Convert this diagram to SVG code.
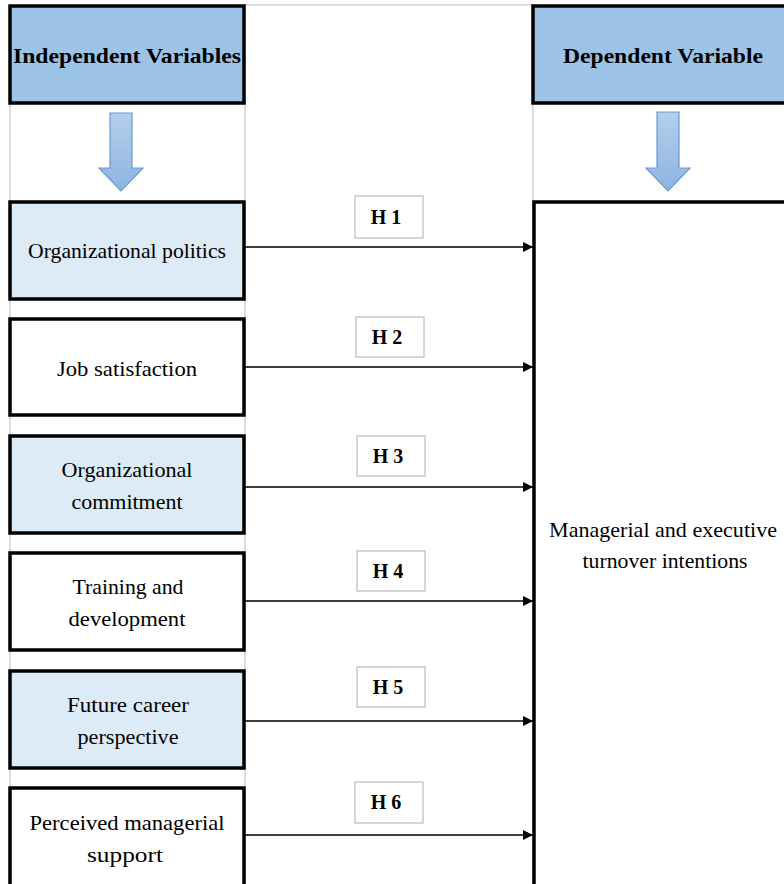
<svg xmlns="http://www.w3.org/2000/svg" width="784" height="884" viewBox="0 0 784 884">
<defs>
<linearGradient id="ag" x1="0" y1="0" x2="0" y2="1">
<stop offset="0" stop-color="#B4CFEC"/>
<stop offset="1" stop-color="#8DB4E2"/>
</linearGradient>
<marker id="ah" viewBox="0 0 10 10" refX="10" refY="5" markerWidth="10" markerHeight="10" markerUnits="userSpaceOnUse" orient="auto">
<path d="M0,0 L10,5 L0,10 z" fill="#000"/>
</marker>
<style>
.grid{stroke:#D0D0D0;stroke-width:1.5;fill:none}
.hdr{fill:#9DC3E6;stroke:#000;stroke-width:3.5}
.box{stroke:#000;stroke-width:3.5}
.blue{fill:#DDEBF7}
.white{fill:#FFFFFF}
.t{font-family:"Liberation Serif",serif;font-size:21.5px;fill:#000;text-anchor:middle}
.b{font-weight:bold;font-size:22px}
.hb{fill:#fff;stroke:#C8C8C8;stroke-width:1.5}
.ht{font-family:"Liberation Serif",serif;font-size:20px;font-weight:bold;fill:#000;text-anchor:middle}
.con{stroke:#000;stroke-width:1.5;fill:none;marker-end:url(#ah)}
.bigarrow{fill:url(#ag);stroke:#6A9BD1;stroke-width:1.2}
</style>
</defs>
<rect width="784" height="884" fill="#fff"/>
<g id="gridlines">
<line class="grid" x1="10" y1="5" x2="10" y2="884"/>
<line class="grid" x1="245" y1="5" x2="245" y2="884"/>
<line class="grid" x1="533" y1="5" x2="533" y2="884"/>
<line class="grid" x1="245" y1="5" x2="533" y2="5"/>
</g>
<g id="hdr-independent">
<rect class="hdr" x="10" y="6" width="234" height="97"/>
<text class="t b" x="127" y="63" textLength="228" lengthAdjust="spacingAndGlyphs">Independent Variables</text>
</g>
<g id="hdr-dependent">
<rect class="hdr" x="533" y="6" width="256" height="97"/>
<text class="t b" x="663" y="63" textLength="200" lengthAdjust="spacingAndGlyphs">Dependent Variable</text>
</g>
<g id="arrow-left">
<path class="bigarrow" d="M110,113 L132,113 L132,168 L143,168 L121,191 L99,168 L110,168 z"/>
</g>
<g id="arrow-right">
<path class="bigarrow" d="M657,112 L679,112 L679,168 L690,168 L668,191 L646,168 L657,168 z"/>
</g>
<g id="n1">
<rect class="box blue" x="10" y="202" width="234" height="97"/>
<text class="t" x="127" y="258" textLength="198" lengthAdjust="spacingAndGlyphs">Organizational politics</text>
</g>
<g id="n2">
<rect class="box white" x="10" y="319" width="234" height="96"/>
<text class="t" x="127" y="376" textLength="140" lengthAdjust="spacingAndGlyphs">Job satisfaction</text>
</g>
<g id="n3">
<rect class="box blue" x="10" y="436" width="234" height="97"/>
<text class="t" x="127" y="477" textLength="131" lengthAdjust="spacingAndGlyphs">Organizational</text>
<text class="t" x="127" y="509" textLength="111" lengthAdjust="spacingAndGlyphs">commitment</text>
</g>
<g id="n4">
<rect class="box white" x="10" y="553" width="234" height="97"/>
<text class="t" x="128" y="594" textLength="111" lengthAdjust="spacingAndGlyphs">Training and</text>
<text class="t" x="127" y="626" textLength="117" lengthAdjust="spacingAndGlyphs">development</text>
</g>
<g id="n5">
<rect class="box blue" x="10" y="671" width="234" height="97"/>
<text class="t" x="128" y="712" textLength="122" lengthAdjust="spacingAndGlyphs">Future career</text>
<text class="t" x="128" y="744" textLength="101" lengthAdjust="spacingAndGlyphs">perspective</text>
</g>
<g id="n6">
<rect class="box white" x="10" y="788" width="234" height="110"/>
<text class="t" x="127" y="830" textLength="195" lengthAdjust="spacingAndGlyphs">Perceived managerial</text>
<text class="t" x="125" y="862" textLength="76" lengthAdjust="spacingAndGlyphs">support</text>
</g>
<g id="dv">
<rect class="box white" x="534" y="202" width="260" height="700"/>
<text class="t" x="663" y="537" textLength="228" lengthAdjust="spacingAndGlyphs">Managerial and executive</text>
<text class="t" x="665" y="568" textLength="165" lengthAdjust="spacingAndGlyphs">turnover intentions</text>
</g>
<g id="connectors">
<line class="con" x1="245" y1="247" x2="533" y2="247"/>
<line class="con" x1="245" y1="367" x2="533" y2="367"/>
<line class="con" x1="245" y1="487" x2="533" y2="487"/>
<line class="con" x1="245" y1="601" x2="533" y2="601"/>
<line class="con" x1="245" y1="721" x2="533" y2="721"/>
<line class="con" x1="245" y1="835" x2="533" y2="835"/>
</g>
<g id="labels">
<rect class="hb" x="355" y="196" width="68" height="42"/>
<text class="ht" x="386" y="224">H 1</text>
<rect class="hb" x="356" y="317" width="68" height="40"/>
<text class="ht" x="387" y="344">H 2</text>
<rect class="hb" x="357" y="436" width="68" height="40"/>
<text class="ht" x="388" y="463">H 3</text>
<rect class="hb" x="357" y="551" width="68" height="40"/>
<text class="ht" x="388" y="578">H 4</text>
<rect class="hb" x="357" y="667" width="68" height="40"/>
<text class="ht" x="388" y="694">H 5</text>
<rect class="hb" x="355" y="782" width="68" height="41"/>
<text class="ht" x="386" y="809">H 6</text>
</g>
</svg>
